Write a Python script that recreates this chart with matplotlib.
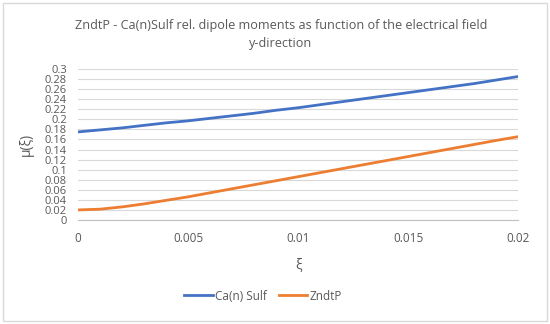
import matplotlib.pyplot as plt
from matplotlib.patches import Rectangle
from matplotlib.ticker import MultipleLocator, FuncFormatter

# field strength xi
xi = [0.000, 0.001, 0.002, 0.003, 0.004, 0.005, 0.006, 0.007, 0.008, 0.009, 0.010,
      0.011, 0.012, 0.013, 0.014, 0.015, 0.016, 0.017, 0.018, 0.019, 0.020]
ca_sulf = [0.175, 0.179, 0.183, 0.188, 0.193, 0.197, 0.202, 0.207, 0.212, 0.218, 0.223,
           0.229, 0.235, 0.241, 0.247, 0.253, 0.259, 0.265, 0.271, 0.278, 0.285]
zndtp = [0.020, 0.0215, 0.026, 0.032, 0.039, 0.046, 0.054, 0.062, 0.070, 0.078, 0.086,
         0.094, 0.102, 0.110, 0.118, 0.126, 0.134, 0.142, 0.150, 0.158, 0.1655]

plt.rcParams['font.family'] = ['Open Sans', 'DejaVu Sans']
grey = '#595959'

fig = plt.figure(figsize=(5.5, 3.24), dpi=100)
fig.patches.append(Rectangle((3 / 550, 3 / 324), 544 / 550, 318 / 324, transform=fig.transFigure,
                             fill=False, edgecolor='#d9d9d9', linewidth=1))

ax = fig.add_axes([78 / 550, 1 - 220 / 324, 440 / 550, 151 / 324])
ax.plot(xi, ca_sulf, color='#4472c4', linewidth=2, label='Ca(n) Sulf')
ax.plot(xi, zndtp, color='#ed7d31', linewidth=2, label='ZndtP')

ax.set_xlim(0, 0.02)
ax.set_ylim(0, 0.3)
ax.xaxis.set_major_locator(MultipleLocator(0.005))
ax.yaxis.set_major_locator(MultipleLocator(0.02))
ax.xaxis.set_major_formatter(FuncFormatter(lambda v, p: f'{v:g}' if abs(v) > 1e-9 else '0'))
ax.yaxis.set_major_formatter(FuncFormatter(lambda v, p: f'{round(v, 2):g}' if abs(v) > 1e-9 else '0'))
ax.grid(axis='y', color='#d9d9d9', linewidth=0.8)
ax.set_axisbelow(True)
for s in ['top', 'right', 'left']:
    ax.spines[s].set_visible(False)
ax.spines['bottom'].set_color('#bfbfbf')
ax.tick_params(length=0, colors=grey, labelsize=8.5)
ax.tick_params(axis='x', pad=9)
ax.tick_params(axis='y', pad=8)
for lab in ax.get_yticklabels():
    lab.set_fontsize(8)

ax.set_xlabel('ξ', color=grey, fontsize=10, labelpad=9)
ax.set_ylabel('μ(ξ)', color=grey, fontsize=10, labelpad=8)

fig.text(281 / 550, 1 - 25 / 324, 'ZndtP - Ca(n)Sulf rel. dipole moments as function of the electrical field',
         ha='center', va='center', color=grey, fontsize=9.1)
fig.text(281 / 550, 1 - 43 / 324, 'y-direction', ha='center', va='center', color=grey, fontsize=9.1)

fig.legend(loc='center', bbox_to_anchor=(263 / 550, 1 - 296 / 324), ncol=2, frameon=False,
           fontsize=8.5, labelcolor=grey, handlelength=2.4, handletextpad=0.2, columnspacing=1.0)

fig.savefig('out.png')
